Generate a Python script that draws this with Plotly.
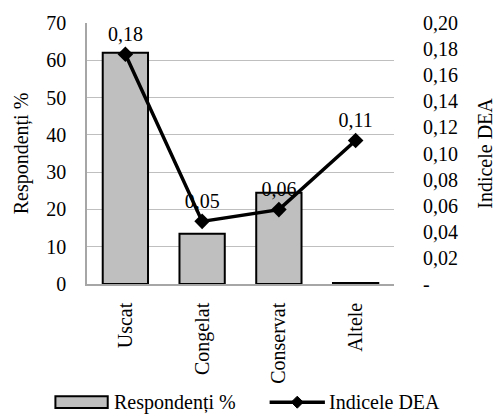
import plotly.graph_objects as go

categories = ["Uscat", "Congelat", "Conservat", "Altele"]
respondenti = [62, 13.5, 24.5, 0.3]
indicele_dea = [0.176, 0.048, 0.057, 0.11]
dea_labels = ["0,18", "0,05", "0,06", "0,11"]
left_ticks = [0, 10, 20, 30, 40, 50, 60, 70]
right_ticks = [0, 0.02, 0.04, 0.06, 0.08, 0.10, 0.12, 0.14, 0.16, 0.18, 0.20]
right_ticktext = ["-", "0,02", "0,04", "0,06", "0,08", "0,10", "0,12", "0,14", "0,16", "0,18", "0,20"]

FONT = "Liberation Serif, Times New Roman, serif"
FS = 20

W, H = 504, 415
L, R, T, B = 87, 106, 19, 131
pw, ph = W - L - R, H - T - B

def px(x):
    return (x - L) / pw

def py(y):
    return (H - B - y) / ph

fig = go.Figure()
fig.add_trace(go.Bar(
    x=categories, y=respondenti, name="Respondenți %",
    marker=dict(color="#bfbfbf", line=dict(color="black", width=2)),
    showlegend=False,
))
fig.add_trace(go.Scatter(
    x=categories, y=indicele_dea, name="Indicele DEA", yaxis="y2",
    mode="lines+markers+text", text=dea_labels, textposition="top center",
    textfont=dict(family=FONT, size=FS, color="black"),
    line=dict(color="black", width=3.5),
    marker=dict(symbol="diamond", size=12, color="black"),
    showlegend=False, cliponaxis=False,
))

fig.update_layout(
    width=W, height=H,
    margin=dict(l=L, r=R, t=T, b=B, pad=0),
    paper_bgcolor="white", plot_bgcolor="white",
    font=dict(family=FONT, size=FS, color="black"),
    bargap=0.41,
    xaxis=dict(
        tickangle=-90, showgrid=False, showline=True, linecolor="#a6a6a6", linewidth=1.5,
        ticks="", ticklabelstandoff=9, tickfont=dict(family=FONT, size=FS),
    ),
    yaxis=dict(
        range=[0, 70], tickvals=left_ticks, showgrid=True, gridcolor="#bfbfbf", gridwidth=1,
        showline=True, linecolor="#a6a6a6", linewidth=1.5, ticks="", ticklabelstandoff=15,
        zeroline=False, tickfont=dict(family=FONT, size=FS),
        title=dict(text="Respondenți %", standoff=12, font=dict(family=FONT, size=FS)),
    ),
    yaxis2=dict(
        range=[0, 0.20], overlaying="y", side="right", tickvals=right_ticks, ticktext=right_ticktext,
        showgrid=False, showline=False, ticks="", ticklabelstandoff=28, zeroline=False,
        tickfont=dict(family=FONT, size=FS),
        title=dict(text="Indicele DEA", standoff=20, font=dict(family=FONT, size=FS)),
    ),
)

# custom legend
ly = py(404)
fig.add_shape(type="rect", xref="paper", yref="paper",
              x0=px(55), x1=px(108), y0=py(398), y1=py(410),
              fillcolor="#bfbfbf", line=dict(color="black", width=2))
fig.add_annotation(xref="paper", yref="paper", x=px(112), y=ly, text="Respondenți %",
                   showarrow=False, xanchor="left", yanchor="middle",
                   font=dict(family=FONT, size=FS))
fig.add_shape(type="line", xref="paper", yref="paper",
              x0=px(272), x1=px(328), y0=ly, y1=ly, line=dict(color="black", width=3.5))
fig.add_shape(type="path", xref="paper", yref="paper", xsizemode="pixel", ysizemode="pixel",
              xanchor=px(300), yanchor=ly, path="M -6 0 L 0 6 L 6 0 L 0 -6 Z",
              fillcolor="black", line=dict(color="black", width=1))
fig.add_annotation(xref="paper", yref="paper", x=px(330), y=ly, text="Indicele DEA",
                   showarrow=False, xanchor="left", yanchor="middle",
                   font=dict(family=FONT, size=FS))

fig.write_html("out.html")
